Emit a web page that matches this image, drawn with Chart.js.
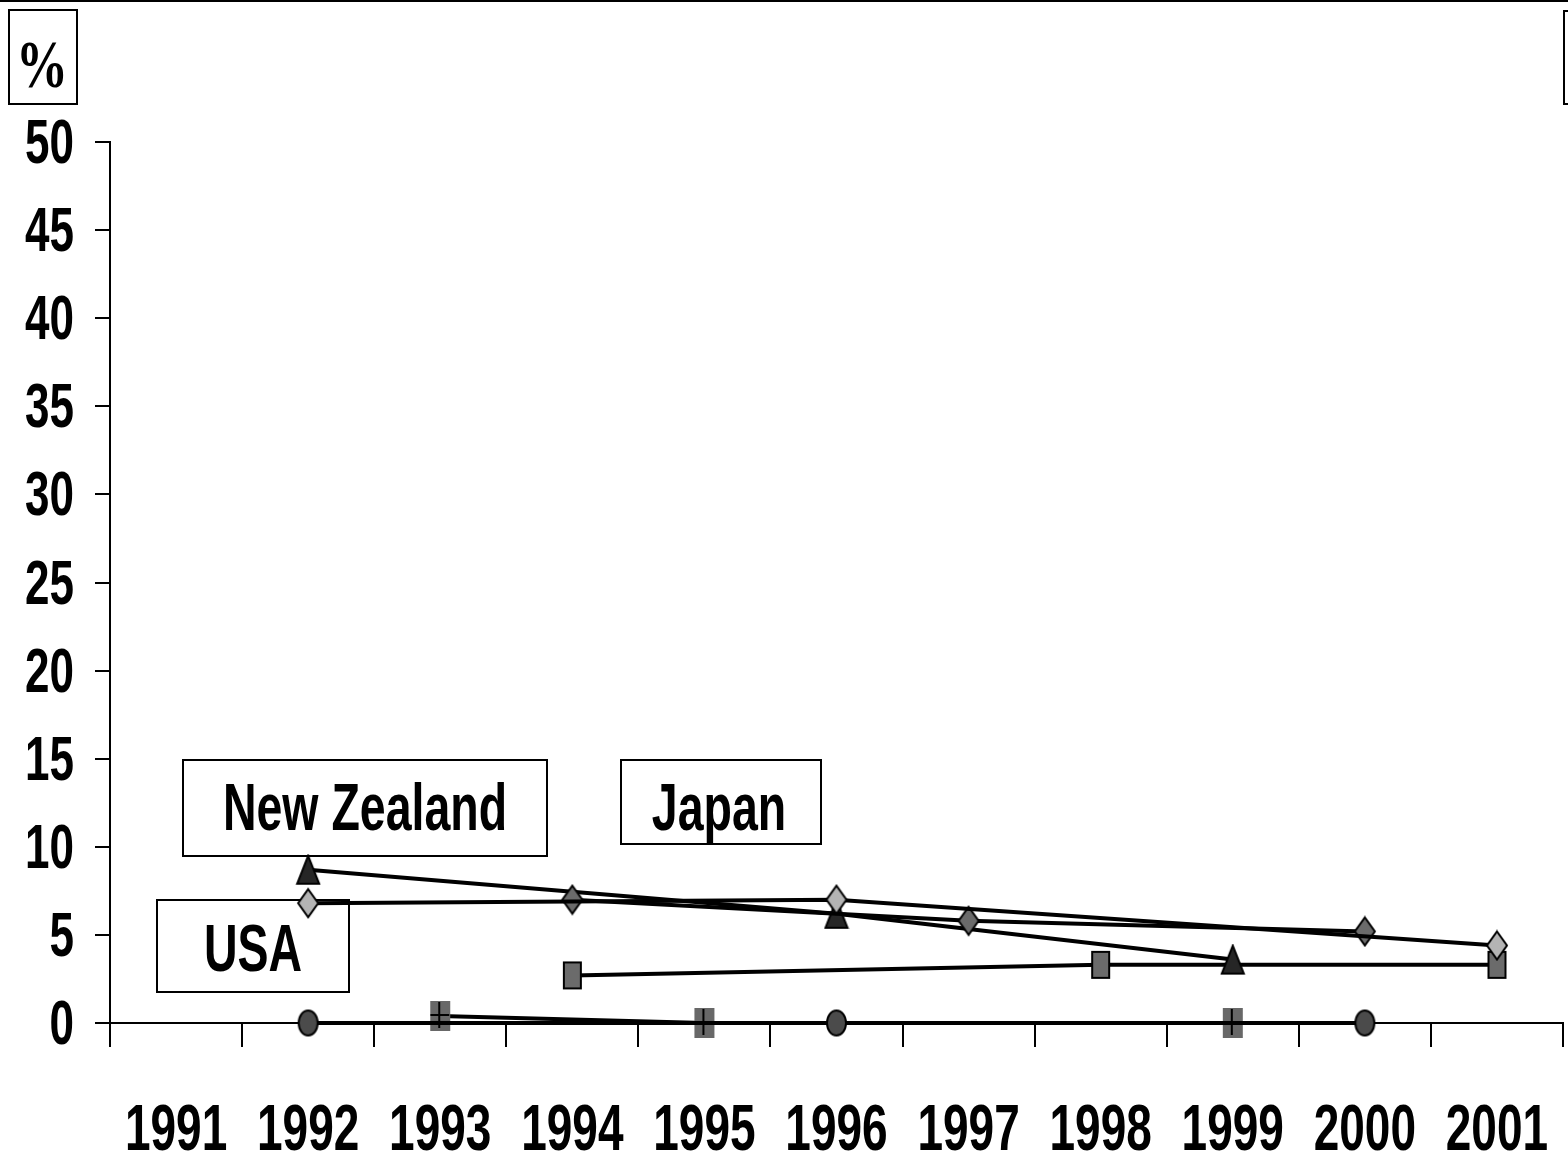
<!DOCTYPE html>
<html>
<head>
<meta charset="utf-8">
<script src="https://cdn.jsdelivr.net/npm/chart.js@4/dist/chart.umd.min.js"></script>
<style>
  html, body { margin: 0; padding: 0; background: #fff; }
  canvas { display: block; }
</style>
</head>
<body>
<canvas id="chart" width="1568" height="1158"></canvas>
<script>
// Years on the horizontal axis
const years = ['1991', '1992', '1993', '1994', '1995', '1996', '1997', '1998', '1999', '2000', '2001'];
// Percent ticks on the vertical axis
const yTicks = [0, 5, 10, 15, 20, 25, 30, 35, 40, 45, 50];

// Survey values (%), null where a year has no observation
const lightDiamondSeries = [null, 6.8, null, null, null, 7.0, null, null, null, null, 4.4];
const darkDiamondSeries  = [null, null, null, 7.0, null, null, 5.8, null, null, 5.2, null];
const triangleSeries     = [null, 8.7, null, null, null, 6.2, null, null, 3.6, null, null];
const squareSeries       = [null, null, null, 2.7, null, null, null, 3.3, null, null, 3.3];
const circleSeries       = [null, 0, null, null, null, 0, null, null, null, 0, null];
const crossSeries        = [null, null, 0.4, null, 0, null, null, null, 0, null, null];

// Country captions placed in the plot
const countryLabels = ['New Zealand', 'Japan', 'USA'];
const unitLabel = '%';

// ---- marker images (taller than wide) ----
function makeMarker(w, h, paint) {
  const c = document.createElement('canvas');
  c.width = w + 4; c.height = h + 4;
  const g = c.getContext('2d');
  g.translate(2, 2);
  g.lineWidth = 2;
  g.strokeStyle = '#000';
  g.lineJoin = 'miter';
  paint(g, w, h);
  return c;
}
const triangleMarker = makeMarker(22, 28, (g, w, h) => {
  g.fillStyle = '#262626';
  g.beginPath(); g.moveTo(w / 2, 0); g.lineTo(w, h); g.lineTo(0, h); g.closePath();
  g.fill(); g.stroke();
});
function diamond(fill) {
  return makeMarker(20, 28, (g, w, h) => {
    g.fillStyle = fill;
    g.beginPath(); g.moveTo(w / 2, 0); g.lineTo(w, h / 2); g.lineTo(w / 2, h); g.lineTo(0, h / 2); g.closePath();
    g.fill(); g.stroke();
  });
}
const darkDiamondMarker = diamond('#6b6b6b');
const lightDiamondMarker = diamond('#b4b4b4');
const squareMarker = makeMarker(17, 26, (g, w, h) => {
  g.fillStyle = '#6b6b6b';
  g.fillRect(0, 0, w, h); g.strokeRect(0, 0, w, h);
});
const circleMarker = makeMarker(19, 25, (g, w, h) => {
  g.fillStyle = '#4b4b4b';
  g.beginPath(); g.ellipse(w / 2, h / 2, w / 2, h / 2, 0, 0, Math.PI * 2);
  g.fill(); g.stroke();
});
const crossMarker = makeMarker(20, 30, (g, w, h) => {
  g.fillStyle = '#686868';
  g.fillRect(0, 0, w, h);
  g.beginPath();
  g.moveTo(w / 2 - 1, 1); g.lineTo(w / 2 - 1, h - 3);
  g.moveTo(0, h / 2 - 1); g.lineTo(w - 1, h / 2 - 1);
  g.stroke();
});

function series(label, data, marker) {
  return {
    label, data,
    borderColor: '#000', borderWidth: 4,
    pointStyle: marker, pointRadius: 12, pointHoverRadius: 12,
    spanGaps: true, tension: 0, fill: false, clip: false
  };
}

// ---- text drawn with a vertical stretch ----
function stretchText(ctx, text, x, y, px, sy, align, family) {
  ctx.save();
  ctx.translate(x, y);
  ctx.scale(1, sy);
  ctx.font = 'bold ' + px + 'px ' + family;
  ctx.textAlign = align;
  ctx.textBaseline = 'alphabetic';
  ctx.fillStyle = '#000';
  ctx.fillText(text, 0, 0);
  ctx.restore();
}
const SANS = '"Liberation Sans", Arial, sans-serif';
const SERIF = '"Liberation Serif", "Times New Roman", serif';

const boxes = [
  { x: 183, y: 760, w: 364, h: 96, text: countryLabels[0], tx: 365, ty: 830 },
  { x: 621, y: 760, w: 200, h: 84, text: countryLabels[1], tx: 719, ty: 830 },
  { x: 157, y: 900, w: 192, h: 92, text: countryLabels[2], tx: 253, ty: 971 }
];

const decor = {
  id: 'decor',
  beforeDraw(chart) {
    const ctx = chart.ctx;
    ctx.save();
    ctx.fillStyle = '#fff';
    ctx.fillRect(0, 0, chart.width, chart.height);
    // frame line along the top edge
    ctx.strokeStyle = '#000'; ctx.lineWidth = 2;
    ctx.beginPath(); ctx.moveTo(0, 1); ctx.lineTo(chart.width, 1); ctx.stroke();
    // unit box and the box at the right edge
    ctx.strokeRect(9, 10, 68, 94);
    ctx.strokeRect(1564, 11, 30, 93);
    ctx.restore();
    stretchText(ctx, unitLabel, 42, 87, 52, 1.32, 'center', SERIF);
  },
  beforeDatasetsDraw(chart) {
    const ctx = chart.ctx;
    ctx.save();
    ctx.strokeStyle = '#000'; ctx.lineWidth = 2;
    boxes.forEach(b => {
      ctx.fillStyle = '#fff';
      ctx.fillRect(b.x, b.y, b.w, b.h);
      ctx.strokeRect(b.x, b.y, b.w, b.h);
    });
    ctx.restore();
    boxes.forEach(b => stretchText(ctx, b.text, b.tx, b.ty, 46.5, 1.44, 'center', SANS));
  },
  afterDraw(chart) {
    const ctx = chart.ctx;
    const xs = chart.scales.x, ys = chart.scales.y;
    years.forEach((yr, i) => {
      stretchText(ctx, yr, xs.getPixelForTick(i), 1150, 46, 1.42, 'center', SANS);
    });
    yTicks.forEach(v => {
      stretchText(ctx, String(v), 74, ys.getPixelForValue(v) + 21, 44, 1.42, 'right', SANS);
    });
  }
};

new Chart(document.getElementById('chart'), {
  type: 'line',
  data: {
    labels: years,
    datasets: [
      series('Series A', lightDiamondSeries, lightDiamondMarker),
      series('Series B', darkDiamondSeries, darkDiamondMarker),
      series('Series C', triangleSeries, triangleMarker),
      series('Series D', squareSeries, squareMarker),
      series('Series E', circleSeries, circleMarker),
      series('Series F', crossSeries, crossMarker)
    ]
  },
  options: {
    responsive: false,
    animation: false,
    events: [],
    layout: { autoPadding: false, padding: { top: 142, right: 5, left: 0, bottom: 0 } },
    plugins: { legend: { display: false }, tooltip: { enabled: false }, title: { display: false } },
    scales: {
      x: {
        type: 'category',
        offset: true,
        grid: { offset: true, drawOnChartArea: false, drawTicks: true, tickLength: 24, color: '#000', lineWidth: 2 },
        border: { display: true, color: '#000', width: 2 },
        ticks: { display: false },
        afterFit(scale) { scale.height = 135; }
      },
      y: {
        min: 0, max: 50,
        afterBuildTicks(scale) { scale.ticks = yTicks.map(v => ({ value: v })); },
        grid: { drawOnChartArea: false, drawTicks: true, tickLength: 15, color: '#000', lineWidth: 2 },
        border: { display: true, color: '#000', width: 2 },
        ticks: { display: false },
        afterFit(scale) { scale.width = 110; }
      }
    }
  },
  plugins: [decor]
});
</script>
</body>
</html>
